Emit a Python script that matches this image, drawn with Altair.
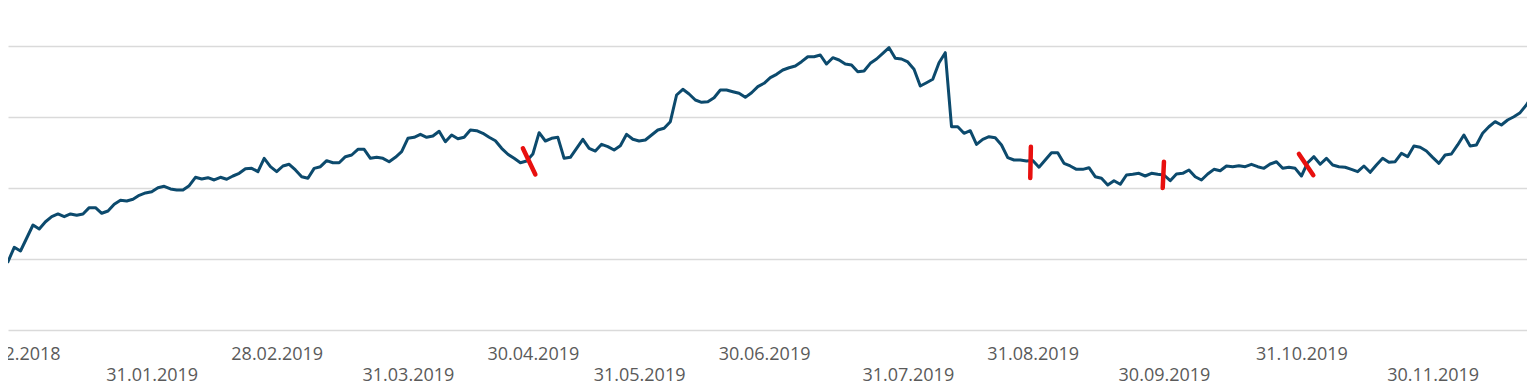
import altair as alt
import pandas as pd

# Series values (arbitrary units; gridlines at 40, 50, 60, 70, 80), one per trading day
values = [
    50.10, 49.62, 51.65, 51.13, 52.96, 54.79, 54.23, 55.25, 55.96, 56.34,
    55.96, 56.34, 56.15, 56.34, 57.23, 57.23, 56.44, 56.76, 57.70, 58.27,
    58.17, 58.41, 58.97, 59.30, 59.48, 60.04, 60.24, 59.86, 59.72, 59.72,
    60.32, 61.51, 61.27, 61.45, 61.13, 61.51, 61.23, 61.69, 62.07, 62.72,
    62.77, 62.30,
    64.18, 63.00, 62.30, 63.10, 63.34, 62.54, 61.59, 61.37, 62.77, 63.00,
    63.85, 63.56, 63.56, 64.41, 64.65, 65.45, 65.45, 64.18, 64.32, 64.18,
    63.70, 64.32, 65.11, 67.00, 67.14, 67.56, 67.14, 67.32, 67.99, 66.52,
    67.46, 66.94, 67.14, 68.17, 68.07, 67.70, 67.14, 66.66, 65.59, 64.75,
    64.18,
    63.56, 63.80, 64.79, 67.79, 66.62, 67.00, 67.14, 64.18, 64.32, 65.59,
    66.86, 65.59, 65.21, 66.15, 65.82, 65.35, 65.96, 67.56, 66.86, 66.62,
    66.76, 67.46, 68.17, 68.41, 69.34, 73.10, 73.90, 73.24, 72.39, 72.07,
    72.15, 72.72, 73.80, 73.80, 73.56, 73.34, 72.77, 73.42, 74.27, 74.75,
    75.54, 76.01, 76.62, 76.94, 77.18, 77.79, 78.49, 78.49, 78.73, 77.46,
    78.35, 78.03, 77.46, 77.32, 76.38, 76.48, 77.56, 78.17, 78.97, 79.76,
    78.27, 78.17, 77.75, 76.72, 74.37, 74.83, 75.31, 77.65, 79.06, 68.63,
    68.63, 67.70, 68.07, 66.15, 66.86, 67.23, 67.08, 66.06, 64.27, 63.94,
    63.94, 63.80, 63.87, 62.92,
    63.94, 64.97, 64.97, 63.48, 63.10, 62.63, 62.63, 62.86, 61.59, 61.37,
    60.42, 61.03, 60.52, 61.83, 61.93, 62.07, 61.69, 62.07, 61.93, 61.83,
    61.03, 61.97, 62.07, 62.54, 61.59, 61.13, 61.97, 62.63, 62.44, 63.10,
    63.00, 63.14, 63.00, 63.34, 63.00, 62.77, 63.38, 63.70, 62.77, 62.92,
    62.77, 61.69, 63.56, 64.41, 63.34, 64.18, 63.24, 63.00,
    62.92, 62.63, 62.30, 63.10, 62.21, 63.24, 64.18, 63.62, 63.70, 64.89,
    64.41, 65.92, 65.73, 65.21, 64.32, 63.48, 64.65, 64.79, 66.06, 67.46,
    65.92, 66.06, 67.70, 68.63, 69.34, 68.87, 69.58, 70.04, 70.61, 71.69,
    73.10,
]

# x-axis tick positions (trading-day index) and their labels
tick_idx = [2, 24, 44, 65, 85, 102, 122, 145, 165, 186, 208, 229]
tick_labels = [
    "31.12.2018", "31.01.2019", "28.02.2019", "31.03.2019", "30.04.2019",
    "31.05.2019", "30.06.2019", "31.07.2019", "31.08.2019", "30.09.2019",
    "31.10.2019", "30.11.2019",
]
grid_values = [40, 50, 60, 70, 80]

# hand-drawn red strokes (start/end in data units)
mark_x = [83.4, 164.7, 186.0, 207.6]
mark_x2 = [85.4, 164.6, 185.8, 209.9]
mark_y = [65.6, 65.8, 63.7, 64.8]
mark_y2 = [61.9, 61.4, 60.0, 61.8]

df = pd.DataFrame({"idx": list(range(len(values))), "value": values})
marks = pd.DataFrame({"x": mark_x, "x2": mark_x2, "y": mark_y, "y2": mark_y2})

ticks_js = "[" + ",".join(str(t) for t in tick_idx) + "]"
labels_js = "[" + ",".join(f"'{l}'" for l in tick_labels) + "]"
pos = f"indexof({ticks_js}, datum.value)"
label_expr = f"{pos} % 2 == 1 ? [' ', {labels_js}[{pos}]] : {labels_js}[{pos}]"

xscale = alt.Scale(domain=[1.0, 244.1], nice=False, zero=False)
yscale = alt.Scale(domain=[40, 80], nice=False, zero=False)

x_axis = alt.Axis(
    values=tick_idx,
    labelExpr=label_expr,
    title=None,
    grid=False,
    domain=False,
    ticks=False,
    labelPadding=15,
    labelFont="Open Sans",
    labelFontSize=18,
    labelColor="#5a5a5a",
    labelLineHeight=21,
    labelOverlap=False,
    labelFlush=False,
    labelBaseline="top",
)
y_axis = alt.Axis(
    values=grid_values,
    labels=False,
    ticks=False,
    domain=False,
    title=None,
    grid=True,
    gridColor="#dadada",
    gridWidth=1.5,
)

line = alt.Chart(df).mark_line(
    color="#0c4a6d", strokeWidth=3, clip=True, strokeJoin="round"
).encode(
    x=alt.X("idx:Q", scale=xscale, axis=x_axis),
    y=alt.Y("value:Q", scale=yscale, axis=y_axis),
)

red = alt.Chart(marks).mark_rule(
    color="#e8100f", strokeWidth=4.5, strokeCap="round"
).encode(
    x=alt.X("x:Q", scale=xscale, axis=x_axis),
    x2="x2:Q",
    y=alt.Y("y:Q", scale=yscale, axis=y_axis),
    y2="y2:Q",
)

chart = (
    alt.layer(line, red)
    .properties(
        width=1519,
        height=284,
        padding={"left": 0, "top": 38, "right": 0, "bottom": 60},
        autosize=alt.AutoSizeParams(type="none"),
    )
    .configure_view(stroke=None)
)

chart.save("out.html", embed_options={"renderer": "svg", "actions": False})
